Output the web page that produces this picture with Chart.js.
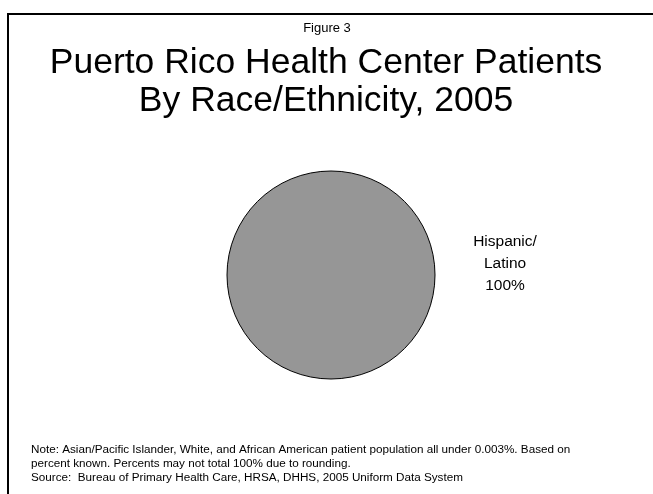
<!DOCTYPE html>
<html>
<head>
<meta charset="utf-8">
<script src="https://cdn.jsdelivr.net/npm/chart.js@4/dist/chart.umd.min.js"></script>
<style>
    html, body { margin: 0; padding: 0; background: #fff; }
    #wrap { position: relative; width: 653px; height: 494px; }
</style>
</head>
<body>
<div id="wrap"><canvas id="pie-chart"></canvas></div>
<script>
const categories = ['Hispanic/Latino'];
const percents = [100];
const sliceLabels = [['Hispanic/', 'Latino', '100%']];

const figureLabel = 'Figure 3';
const titleLines = ['Puerto Rico Health Center Patients', 'By Race/Ethnicity, 2005'];
const noteLines = [
    'Note: Asian/Pacific Islander, White, and African American patient population all under 0.003%. Based on',
    'percent known. Percents may not total 100% due to rounding.',
    'Source:  Bureau of Primary Health Care, HRSA, DHHS, 2005 Uniform Data System'
];

const FONT = '"Liberation Sans", Arial, sans-serif';

// frame, pie outline, titles, slice label and footnote
const slideText = {
    id: 'slideText',
    afterDraw(chart) {
        const ctx = chart.ctx;
        ctx.save();
        // frame: left and top edges only
        ctx.strokeStyle = '#000';
        ctx.lineWidth = 2;
        ctx.beginPath();
        ctx.moveTo(8, 494);
        ctx.lineTo(8, 14);
        ctx.lineTo(653, 14);
        ctx.stroke();

        // outline of the single full slice (no radial seam)
        const arc = chart.getDatasetMeta(0).data[0];
        ctx.lineWidth = 1;
        ctx.beginPath();
        ctx.arc(arc.x, arc.y, arc.outerRadius, 0, Math.PI * 2);
        ctx.stroke();

        ctx.fillStyle = '#000';
        ctx.textAlign = 'center';
        ctx.textBaseline = 'alphabetic';
        ctx.font = '13px ' + FONT;
        ctx.fillText(figureLabel, 327, 32);

        ctx.font = '35.5px ' + FONT;
        titleLines.forEach((t, i) => ctx.fillText(t, 326, 73 + i * 38));

        ctx.font = '15.5px ' + FONT;
        sliceLabels[0].forEach((t, i) => ctx.fillText(t, arc.x + 174, 246 + i * 22));

        ctx.textAlign = 'left';
        ctx.font = '11.7px ' + FONT;
        noteLines.forEach((t, i) => ctx.fillText(t, 31, 453 + i * 14));
        ctx.restore();
    }
};

new Chart(document.getElementById('pie-chart').getContext('2d'), {
    type: 'pie',
    data: {
        labels: categories,
        datasets: [{
            data: percents,
            backgroundColor: ['#969696'],
            borderWidth: 0
        }]
    },
    options: {
        responsive: true,
        maintainAspectRatio: false,
        animation: false,
        layout: { padding: { left: 227, right: 218, top: 171, bottom: 115 } },
        plugins: {
            legend: { display: false },
            tooltip: { enabled: false }
        }
    },
    plugins: [slideText]
});
</script>
</body>
</html>
